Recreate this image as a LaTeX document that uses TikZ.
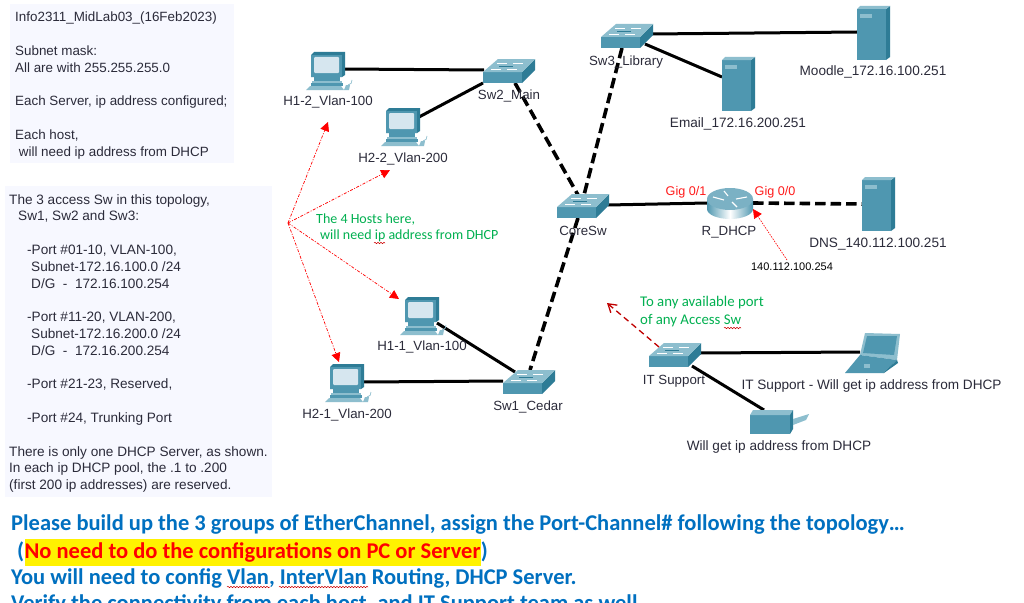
\documentclass[tikz,border=0pt]{standalone}
\usepackage{fontspec}
\setmainfont{Liberation Sans}
\newfontfamily\calibri{Carlito}
\usetikzlibrary{arrows.meta,decorations.pathmorphing}
\definecolor{teal}{HTML}{4F97B0}
\definecolor{tealdark}{HTML}{2E7C96}
\definecolor{teallight}{HTML}{8DBECE}
\definecolor{screenlight}{HTML}{D6E6EF}
\definecolor{panelbg}{HTML}{F7F8FF}
\definecolor{labelink}{HTML}{2B2B3A}
\definecolor{greenink}{HTML}{00B050}
\definecolor{blueink}{HTML}{0070C0}
\definecolor{arrowdark}{HTML}{C00000}
\tikzset{
  box/.style n args={2}{inner sep=0pt,outer sep=0pt,minimum width=#1,minimum height=#2},
  pcbox/.style={box={34pt}{38pt}},
  swbox/.style={box={52pt}{24pt}},
  srvbox/.style={box={33pt}{54pt}},
  rtbox/.style={box={46pt}{31pt}},
  lapbox/.style={box={57pt}{40pt}},
  prnbox/.style={box={59pt}{24pt}},
  wire/.style={draw=black,line width=3pt},
  bundle/.style={draw=black,line width=3.6pt,dash pattern=on 10.5pt off 5pt},
  hint/.style={draw=red,line width=.7pt,dash pattern=on 3pt off 1.5pt on 1pt off 1.5pt,-{Triangle[fill=red,length=9pt,width=9pt]}},
  hintfine/.style={draw=red,line width=.6pt,dash pattern=on 1.5pt off 1.2pt,-{Triangle[fill=red,length=9pt,width=9pt]}},
  uplink/.style={draw=arrowdark,line width=1.3pt,dash pattern=on 6pt off 4pt,-{Straight Barb[length=8pt,width=10pt]}},
  lbl/.style={inner sep=0pt,text=labelink,font=\fontsize{13.3}{16}\selectfont},
  lblwide/.style={inner sep=0pt,text=labelink,font=\fontsize{13.6}{16}\selectfont},
  port/.style={inner sep=0pt,text=red!90!white,font=\fontsize{12.6}{15}\selectfont},
  note/.style={inner sep=0pt,anchor=west,text=greenink,font=\calibri\fontsize{14}{17}\selectfont},
  notewide/.style={inner sep=0pt,anchor=west,text=greenink,font=\calibri\fontsize{14.8}{17}\selectfont},
  brief/.style={inner sep=0pt,anchor=west,text=blueink,font=\calibri\bfseries\fontsize{22.5}{26}\selectfont},
  panel/.style={fill=panelbg,inner sep=0pt,anchor=north west},
  paneltext/.style={inner sep=0pt,anchor=north west,align=left,text=labelink,font=\fontsize{13.4}{16.8}\selectfont},
  paneltextb/.style={inner sep=0pt,anchor=north west,align=left,text=labelink,font=\fontsize{13.6}{16.8}\selectfont},
  squiggle/.style={draw=red!80!black,line width=.5pt,decorate,decoration={snake,amplitude=.7pt,segment length=3pt}},
  pics/swicon/.style={code={
    \fill[teal] (0,13) rectangle (39,24);
    \fill[tealdark] (39,13) -- (52,0) -- (52,11) -- (39,24) -- cycle;
    \fill[teallight] (0,13) -- (15,0) -- (52,0) -- (39,13) -- cycle;
    \draw[white,line width=.7pt] (14,4) -- (24,4) (30,4) -- (40,4) (8,10) -- (18,10) (24,10) -- (34,10);
    \draw[tealdark,line width=.6pt] (16,7) -- (30,7);
  }},
  pics/pcicon/.style={code={
    \fill[tealdark] (0,3) -- (3,0) -- (34,0) -- (34,23) -- (31,25) -- (0,25) -- cycle;
    \fill[teal] (0,3) rectangle (31,25);
    \fill[screenlight,rounded corners=1pt] (3,5) rectangle (28,21);
    \fill[teal] (3,25) rectangle (29,29);
    \fill[teallight] (1,29) rectangle (31,31);
    \fill[teal] (0,31) rectangle (32,34);
    \fill[teallight] (-5,38) -- (-1,34) -- (30,34) -- (33,38) -- cycle;
    \fill[teallight] (33,38) -- (35,33) -- (39,33) -- (38,38) -- cycle;
    \draw[teallight,line width=.7pt] (37,33) to[bend right=50] (41,28);
  }},
  pics/srvicon/.style={code={
    \fill[teal] (0,3) rectangle (29,54);
    \fill[tealdark] (29,3) -- (33,0) -- (33,51) -- (29,54) -- cycle;
    \fill[teallight] (0,3) -- (3,0) -- (33,0) -- (29,3) -- cycle;
    \fill[teallight] (3,8) rectangle (15,12);
  }},
  pics/rticon/.style={code={
    \shade[left color=teal,right color=teal,middle color=white] (0,11) -- (0,21) arc[start angle=180,end angle=0,x radius=23,y radius=10] -- (46,11) -- cycle;
    \fill[teal!75!white] (23,11) ellipse[x radius=23,y radius=11];
    \draw[white,line width=1.1pt] (6,9) -- (17,12) (40,9) -- (29,11) (17,3) -- (21,8) (30,19) -- (25,14);
  }},
  pics/lapicon/.style={code={
    \fill[teallight] (22,0) -- (57,1) -- (54,27) -- (17,22) -- cycle;
    \fill[teal] (24,3) -- (54,3) -- (51,22) -- (20,20) -- cycle;
    \fill[teal] (17,22) -- (54,27) -- (40,40) -- (2,40) -- cycle;
    \fill[tealdark] (54,27) -- (55,30) -- (41,40) -- (40,40) -- cycle;
    \fill[teallight] (21,31) rectangle (27,35);
  }},
  pics/prnicon/.style={code={
    \fill[teal] (0,5) rectangle (40,24);
    \fill[teallight] (0,5) -- (3,0) -- (43,0) -- (40,5) -- cycle;
    \fill[tealdark] (40,5) -- (43,0) -- (43,19) -- (40,24) -- cycle;
    \fill[teallight] (43,9) -- (59,4) -- (56,10) -- (43,15) -- cycle;
  }},
}
\begin{document}
\begin{tikzpicture}[x=1pt,y=-1pt]
\clip (0,0) rectangle (1024,602);
\fill[white] (0,0) rectangle (1024,602);

% Notes on the left
\node[panel,minimum width=224pt,minimum height=159pt] (notesa) at (10,4) {};
\node[panel,minimum width=267pt,minimum height=311pt] (notesb) at (5,186) {};
\node[paneltext] (notesatext) at (15,12) {Info2311\_MidLab03\_(16Feb2023)\\[16.8pt]Subnet mask:\\All are with 255.255.255.0\\[16.8pt]Each Server, ip address configured;\\[16.8pt]Each host,\\\hspace{3.7pt}will need ip address from DHCP};
\node[paneltextb] (notesbtext) at (9,194) {The 3 access Sw in this topology,\\\hspace{9pt}Sw1, Sw2 and Sw3:\\[16.8pt]\hspace{18pt}-Port \#01-10, VLAN-100,\\\hspace{22pt}Subnet-172.16.100.0 /24\\\hspace{22pt}D/G\ \ -\ \ 172.16.100.254\\[16.8pt]\hspace{18pt}-Port \#11-20, VLAN-200,\\\hspace{22pt}Subnet-172.16.200.0 /24\\\hspace{22pt}D/G\ \ -\ \ 172.16.200.254\\[16.8pt]\hspace{18pt}-Port \#21-23, Reserved,\\[16.8pt]\hspace{18pt}-Port \#24, Trunking Port\\[16.8pt]There is only one DHCP Server, as shown.\\In each ip DHCP pool, the .1 to .200\\(first 200 ip addresses) are reserved.};

% Device footprints
\node[pcbox] (h12) at (328,71) {};
\node[pcbox] (h22) at (403,127) {};
\node[pcbox] (h11) at (422,316) {};
\node[pcbox] (h21) at (347,383) {};
\node[swbox] (sw2) at (509,71) {};
\node[swbox] (sw3) at (627,36) {};
\node[swbox] (core) at (583,206) {};
\node[swbox] (sw1) at (529,382) {};
\node[swbox] (its) at (675,355) {};
\node[srvbox] (moodle) at (873.5,33) {};
\node[srvbox] (email) at (738.5,84) {};
\node[srvbox] (dns) at (878.5,204) {};
\node[rtbox] (rt) at (730,203.5) {};
\node[lapbox] (lap) at (871.5,353) {};
\node[prnbox] (prn) at (779.5,422) {};

% Cabling
\draw[wire] ([shift={(16,-2)}]h12.center) -- ([shift={(-25,-1)}]sw2.center);
\draw[wire] ([shift={(16,-10)}]h22.center) -- ([shift={(-26,12)}]sw2.center);
\draw[bundle] ([shift={(6,12)}]sw2.center) -- ([shift={(-5,-11)}]core.center);
\draw[bundle] ([shift={(-5,12)}]sw3.center) -- ([shift={(1,-11)}]core.center);
\draw[wire] ([shift={(25,-2)}]sw3.center) -- ([shift={(-16.5,-1)}]moodle.center);
\draw[wire] ([shift={(18,8)}]sw3.center) -- ([shift={(-16.5,-7)}]email.center);
\draw[wire] ([shift={(25,-1)}]core.center) -- ([shift={(-23,-.5)}]rt.center);
\draw[bundle] ([shift={(23,-.5)}]rt.center) -- ([shift={(-16.5,0)}]dns.center);
\draw[bundle] ([shift={(-5,12)}]core.center) -- ([shift={(1,-12)}]sw1.center);
\draw[wire] ([shift={(15,7)}]h11.center) -- ([shift={(-14,-10)}]sw1.center);
\draw[wire] ([shift={(16,-1)}]h21.center) -- ([shift={(-26,-1)}]sw1.center);
\draw[wire] ([shift={(25,-2)}]its.center) -- ([shift={(-11.5,-1)}]lap.center);
\draw[wire] ([shift={(17,11)}]its.center) -- ([shift={(-15.5,-12)}]prn.center);

% Device icons
\foreach \n in {h12,h22,h11,h21} \pic at (\n.north west) {pcicon};
\foreach \n in {sw2,sw3,core,sw1,its} \pic at (\n.north west) {swicon};
\foreach \n in {moodle,email,dns} \pic at (\n.north west) {srvicon};
\pic at (rt.north west) {rticon};
\pic at (lap.north west) {lapicon};
\pic at (prn.north west) {prnicon};

% Device labels
\node[lbl] (lh12) at (328,102) {H1-2\_Vlan-100};
\node[lbl] (lh22) at (403,159) {H2-2\_Vlan-200};
\node[lbl] (lsw2) at (509,96) {Sw2\_Main};
\node[lbl] (lsw3) at (626,62) {Sw3\_Library};
\node[lblwide] (lmoodle) at (873,72) {Moodle\_172.16.100.251};
\node[lblwide] (lemail) at (738,124) {Email\_172.16.200.251};
\node[lbl] (lcore) at (583,231) {CoreSw};
\node[lbl] (lrt) at (729,232) {R\_DHCP};
\node[lblwide] (ldns) at (878,244) {DNS\_140.112.100.251};
\node[lbl] (lh11) at (422,347) {H1-1\_Vlan-100};
\node[lbl] (lh21) at (347,415) {H2-1\_Vlan-200};
\node[lbl] (lsw1) at (528,407) {Sw1\_Cedar};
\node[lbl] (lits) at (674,381) {IT Support};
\node[lblwide] (llap) at (871.5,386) {IT Support - Will get ip address from DHCP};
\node[lblwide] (lprn) at (779,447) {Will get ip address from DHCP};
\node[port] (gig1) at (686,192) {Gig 0/1};
\node[port] (gig0) at (775,192) {Gig 0/0};
\node[inner sep=0pt,text=black,font=\fontsize{11}{13}\selectfont] (rtip) at (792,267) {140.112.100.254};

% Callouts
\node[note] (hostsa) at (316,220) {The 4 Hosts here,};
\node[note] (hostsb) at (320,236) {will need ip address from DHCP};
\node[notewide] (portsa) at (640,303) {To any available port};
\node[notewide] (portsb) at (640,321) {of any Access Sw};
\coordinate (fan) at (288,223);
\coordinate (tiph12) at (328,122);
\coordinate (tiph22) at (390,170);
\coordinate (tiph11) at (399,299);
\coordinate (tiph21) at (339,362);
\coordinate (tipany) at (607,303);
\draw[hint] (fan) -- (tiph12);
\draw[hint] (fan) -- (tiph22);
\draw[hint] (fan) -- (tiph11);
\draw[hint] (fan) -- (tiph21);
\draw[hintfine] ([shift={(-5,-7)}]rtip.center) -- ([shift={(23,5.5)}]rt.center);
\draw[uplink] ([shift={(-16,-8)}]its.center) -- (tipany);

% Instructions along the bottom
\node[brief] (briefa) at (11,525) {Please build up the 3 groups of EtherChannel, assign the Port-Channel\# following the topology…};
\node[brief] (openp) at (17,552) {(};
\node[inner sep=0pt,fill=yellow,text=red,font=\calibri\bfseries\fontsize{22.5}{26}\selectfont,minimum height=27pt,anchor=west] (noneed) at (openp.east) {No need to do the configurations on PC or Server};
\node[brief,anchor=west] (closep) at (noneed.east) {)};
\node[brief] (briefc) at (11,578) {You will need to config Vlan, InterVlan Routing, DHCP Server.};
\node[brief] (briefd) at (11,604) {Verify the connectivity from each host, and IT Support team as well.};

% Spell-check underlines
\coordinate (ipa) at (374,243);
\coordinate (ipb) at (385,243);
\coordinate (swa) at (724,328);
\coordinate (swb) at (741,328);
\coordinate (vla) at (227,587);
\coordinate (vlb) at (270,587);
\coordinate (iva) at (279,587);
\coordinate (ivb) at (368,587);
\draw[squiggle] (ipa) -- (ipb);
\draw[squiggle] (swa) -- (swb);
\draw[squiggle] (vla) -- (vlb);
\draw[squiggle] (iva) -- (ivb);
\end{tikzpicture}
\end{document}
